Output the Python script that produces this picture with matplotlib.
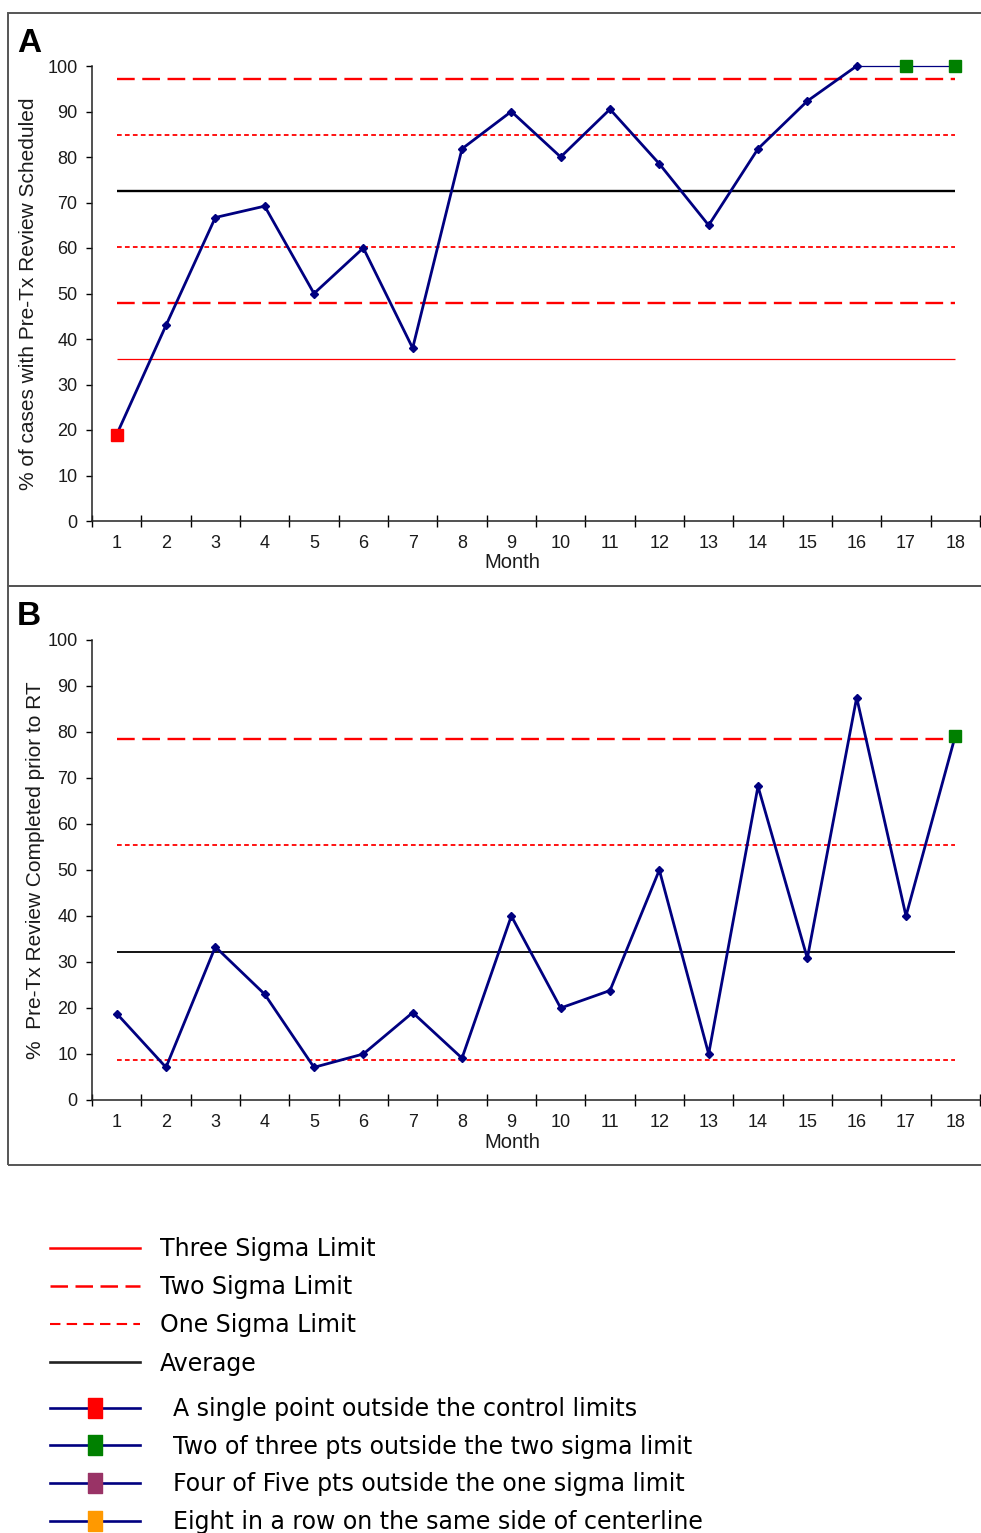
import matplotlib.pyplot as plt
from matplotlib.lines import Line2D
from matplotlib.patches import Rectangle

plt.rcParams['font.family'] = ['Liberation Sans', 'DejaVu Sans']

months = list(range(1, 19))

# panel A: % of cases with pre-treatment review scheduled
sched_pct = [19.0, 43.0, 66.7, 69.2, 50.0, 60.0, 38.0, 81.8, 90.0, 80.0,
             90.5, 78.5, 65.0, 81.8, 92.3, 100.0, 100.0, 100.0]
sched_avg = 72.5
sched_one_sigma = [60.2, 84.8]
sched_two_sigma = [47.9, 97.1]
sched_three_sigma = [35.7]
sched_red = [1]
sched_green = [17, 18]

# panel B: % pre-treatment review completed prior to RT
done_pct = [18.8, 7.1, 33.3, 23.0, 7.1, 10.0, 19.0, 9.1, 40.0, 20.0,
            23.8, 50.0, 10.0, 68.2, 30.8, 87.5, 40.0, 79.2]
done_avg = 32.1
done_one_sigma = [8.8, 55.4]
done_two_sigma = [78.5]
done_three_sigma = []
done_red = []
done_green = [18]

limit_labels = ['Three Sigma Limit', 'Two Sigma Limit', 'One Sigma Limit', 'Average']
rule_labels = ['A single point outside the control limits',
               'Two of three pts outside the two sigma limit',
               'Four of Five pts outside the one sigma limit',
               'Eight in a row on the same side of centerline']
rule_colors = ['#ff0000', '#008000', '#993366', '#ff9900']

NAVY = '#000080'
RED = '#ff0000'
TWO_DASH = (0, (7.5, 3.2))
ONE_DASH = (0, (2.6, 1.8))

W, H = 981, 1533
fig = plt.figure(figsize=(W / 100, H / 100), dpi=100)


def draw_panel(ax, values, avg, one, two, three, red, green, ylabel,
               thin_from=None, avg_lw=1.6):
    x0, x1 = months[0], months[-1]
    for y in three:
        ax.hlines(y, x0, x1, color=RED, lw=0.9)
    for y in two:
        ax.hlines(y, x0, x1, color=RED, lw=1.7, linestyles=TWO_DASH)
    for y in one:
        ax.hlines(y, x0, x1, color=RED, lw=1.3, linestyles=ONE_DASH)
    ax.hlines(avg, x0, x1, color='black', lw=avg_lw)

    if thin_from is None:
        ax.plot(months, values, color=NAVY, lw=2.0, marker='D', ms=3.8,
                clip_on=False, zorder=3)
    else:
        ax.plot(months[:thin_from], values[:thin_from], color=NAVY, lw=2.0,
                marker='D', ms=3.8, clip_on=False, zorder=3)
        ax.plot(months[thin_from - 1:], values[thin_from - 1:], color=NAVY,
                lw=0.9, clip_on=False, zorder=3)
    for flags, c in ((red, '#ff0000'), (green, '#008000')):
        if flags:
            ax.plot(flags, [values[m - 1] for m in flags], ls='none', marker='s',
                    ms=8, color=c, clip_on=False, zorder=4)

    ax.set_xlim(0.5, 18.5)
    ax.set_ylim(0, 100)
    ax.set_yticks(range(0, 101, 10))
    ax.set_xticks([m - 0.5 for m in months] + [18.5])
    ax.set_xticks(months, minor=True)
    ax.set_xticklabels(months, minor=True)
    ax.tick_params(axis='x', which='major', direction='inout', length=9,
                   width=1, labelbottom=False)
    ax.tick_params(axis='x', which='minor', length=0, pad=10, labelsize=13,
                   labelcolor='#1a1a1a')
    ax.tick_params(axis='y', direction='out', length=4.5, width=1, pad=6,
                   labelsize=13, labelcolor='#1a1a1a')
    for s in ('top', 'right'):
        ax.spines[s].set_visible(False)
    for s in ('left', 'bottom'):
        ax.spines[s].set_linewidth(1.1)
        ax.spines[s].set_color('#222222')
    ax.set_ylabel(ylabel, fontsize=15, color='#1a1a1a', va='center')
    ax.set_xlabel('Month', fontsize=14.5, color='#1a1a1a', va='center')


axA = fig.add_axes([92 / W, 1 - 521 / H, 888 / W, 455 / H])
draw_panel(axA, sched_pct, sched_avg, sched_one_sigma, sched_two_sigma,
           sched_three_sigma, sched_red, sched_green,
           '% of cases with Pre-Tx Review Scheduled', thin_from=16, avg_lw=1.7)
axA.yaxis.set_label_coords(-0.072, 0.5)
axA.xaxis.set_label_coords(0.473, -0.092)

axB = fig.add_axes([92 / W, 1 - 1100 / H, 888 / W, 460 / H])
draw_panel(axB, done_pct, done_avg, done_one_sigma, done_two_sigma,
           done_three_sigma, done_red, done_green,
           '%  Pre-Tx Review Completed prior to RT', avg_lw=1.3)
axB.yaxis.set_label_coords(-0.064, 0.5)
axB.xaxis.set_label_coords(0.473, -0.093)

# panel frames
for top, bottom in ((13, 586), (586, 1165)):
    fig.patches.append(Rectangle((8 / W, 1 - bottom / H), 1.0, (bottom - top) / H,
                                 transform=fig.transFigure, fill=False,
                                 edgecolor='#555555', lw=1.4))

fig.text(17 / W, 1 - 52 / H, 'A', fontsize=24, fontweight='bold', va='baseline')
fig.text(17 / W, 1 - 625 / H, 'B', fontsize=24, fontweight='bold', va='baseline')

# legends
limit_handles = [
    Line2D([], [], color=RED, lw=1.8),
    Line2D([], [], color=RED, lw=1.8, ls=(0, (7.0, 3.0))),
    Line2D([], [], color=RED, lw=1.5, ls=(0, (5.0, 3.0))),
    Line2D([], [], color='#222222', lw=1.9),
]
box = [(-2, -3), (2, -3), (2, 3), (-2, 3), (-2, -3)]
rule_handles = [Line2D([], [], color=NAVY, lw=1.9, marker=box, ms=15,
                       markerfacecolor=c, markeredgecolor=c) for c in rule_colors]

leg_kw = dict(loc='upper left', frameon=False, borderpad=0, borderaxespad=0,
              handlelength=3.8, prop={'family': 'DejaVu Sans', 'size': 17})
fig.legend(limit_handles, limit_labels, bbox_to_anchor=(50 / W, 1 - 1237 / H),
           handletextpad=0.85, labelspacing=0.6, **leg_kw)
fig.legend(rule_handles, rule_labels, bbox_to_anchor=(50 / W, 1 - 1397 / H),
           handletextpad=1.4, labelspacing=0.58, **leg_kw)

fig.savefig('out.png', dpi=100)
